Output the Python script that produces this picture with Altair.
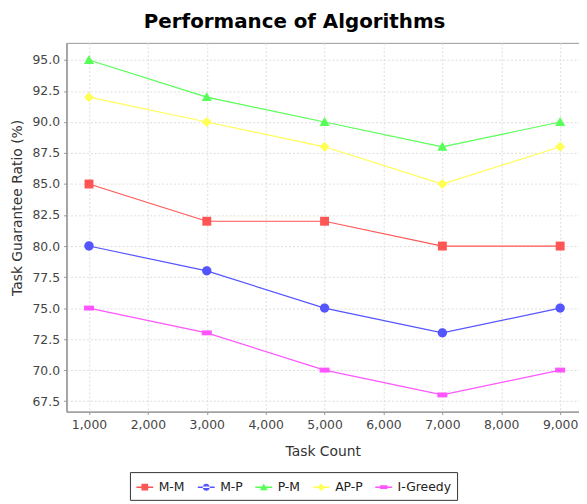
import altair as alt
import pandas as pd

task_counts = [1000, 3000, 5000, 7000, 9000]
series_names = ["M-M", "M-P", "P-M", "AP-P", "I-Greedy"]
mm = [85, 82, 82, 80, 80]
mp = [80, 78, 75, 73, 75]
pm = [95, 92, 90, 88, 90]
app = [92, 90, 88, 85, 88]
igreedy = [75, 73, 70, 68, 70]

values = [mm, mp, pm, app, igreedy]
rows = []
for name, vals in zip(series_names, values):
    for t, v in zip(task_counts, vals):
        rows.append({"Algorithm": name, "Task Count": t, "Ratio": v})
df = pd.DataFrame(rows)

colors = ["#FF5555", "#5555FF", "#55FF55", "#FFFF55", "#FF55FF"]
shapes = [
    "M-0.4,-0.4L0.4,-0.4L0.4,0.4L-0.4,0.4Z",
    "M-0.42,0A0.42,0.42 0 1,0 0.42,0A0.42,0.42 0 1,0 -0.42,0Z",
    "M0,-0.45L0.45,0.35L-0.45,0.35Z",
    "M0,-0.45L0.45,0L0,0.45L-0.45,0Z",
    "M-0.45,-0.22L0.45,-0.22L0.45,0.22L-0.45,0.22Z",
]
# legend glyph = short line segment with the marker on it
seg = "M-1,-0.09L1,-0.09L1,0.09L-1,0.09Z "
legend_shapes = [seg + s for s in shapes]

x = alt.X("Task Count:Q",
          scale=alt.Scale(domain=[618, 9320], nice=False, zero=False),
          axis=alt.Axis(values=[1000, 2000, 3000, 4000, 5000, 6000, 7000, 8000, 9000],
                        format=",.0f", title="Task Count"))
y = alt.Y("Ratio:Q",
          scale=alt.Scale(domain=[66.65, 96.38], nice=False, zero=False),
          axis=alt.Axis(values=[67.5, 70, 72.5, 75, 77.5, 80, 82.5, 85, 87.5, 90, 92.5, 95],
                        format=".1f", title="Task Guarantee Ratio (%)", titleY=166))

base = alt.Chart(df).encode(x=x, y=y)

lines = base.mark_line(strokeWidth=1.2, clip=True).encode(
    color=alt.Color("Algorithm:N", scale=alt.Scale(domain=series_names, range=colors),
                    legend=None),
    detail="Algorithm:N",
)
points = base.mark_point(filled=True, size=506, opacity=1).encode(
    color=alt.Color("Algorithm:N", scale=alt.Scale(domain=series_names, range=colors),
                    legend=None),
    shape=alt.Shape("Algorithm:N", scale=alt.Scale(domain=series_names, range=shapes),
                    legend=None),
)

legend = alt.Legend(
    title=None, orient="none", direction="horizontal",
    legendX=64, legendY=433,
    symbolSize=290, symbolStrokeWidth=0, symbolOpacity=1,
    labelFont="DejaVu Sans", labelFontSize=12.5, labelColor="#222222",
    padding=6, columnPadding=12, labelOffset=5, strokeColor="#333333",
)
legend_layer = base.mark_point(filled=True, size=10, opacity=0).encode(
    color=alt.Color("Algorithm:N", scale=alt.Scale(domain=series_names, range=colors),
                    legend=legend),
    shape=alt.Shape("Algorithm:N", scale=alt.Scale(domain=series_names, range=legend_shapes),
                    legend=legend),
)

chart = alt.layer(lines, points, legend_layer).resolve_scale(
    color="independent", shape="independent"
).resolve_legend(
    color="independent", shape="independent"
).properties(
    width=517, height=372,
    title=alt.TitleParams("Performance of Algorithms", fontSize=20, fontWeight="bold",
                          font="DejaVu Sans", color="#000000", offset=11, frame="bounds"),
    padding={"left": 2, "right": 0, "top": 2, "bottom": 0},
).configure_view(
    stroke="#999999", strokeWidth=1
).configure_axis(
    labelFont="DejaVu Sans", titleFont="DejaVu Sans",
    labelFontSize=12.5, titleFontSize=14, titleFontWeight="normal",
    labelColor="#444444", titleColor="#333333",
    domainColor="#999999", domainWidth=1.5,
    tickColor="#999999", tickSize=3,
    gridColor="#dddddd", gridDash=[2, 2], gridWidth=1,
    labelPadding=4,
).configure_axisX(titlePadding=14).configure_axisY(titlePadding=8)

chart.save("out.html", embed_options={"renderer": "svg", "actions": False})
